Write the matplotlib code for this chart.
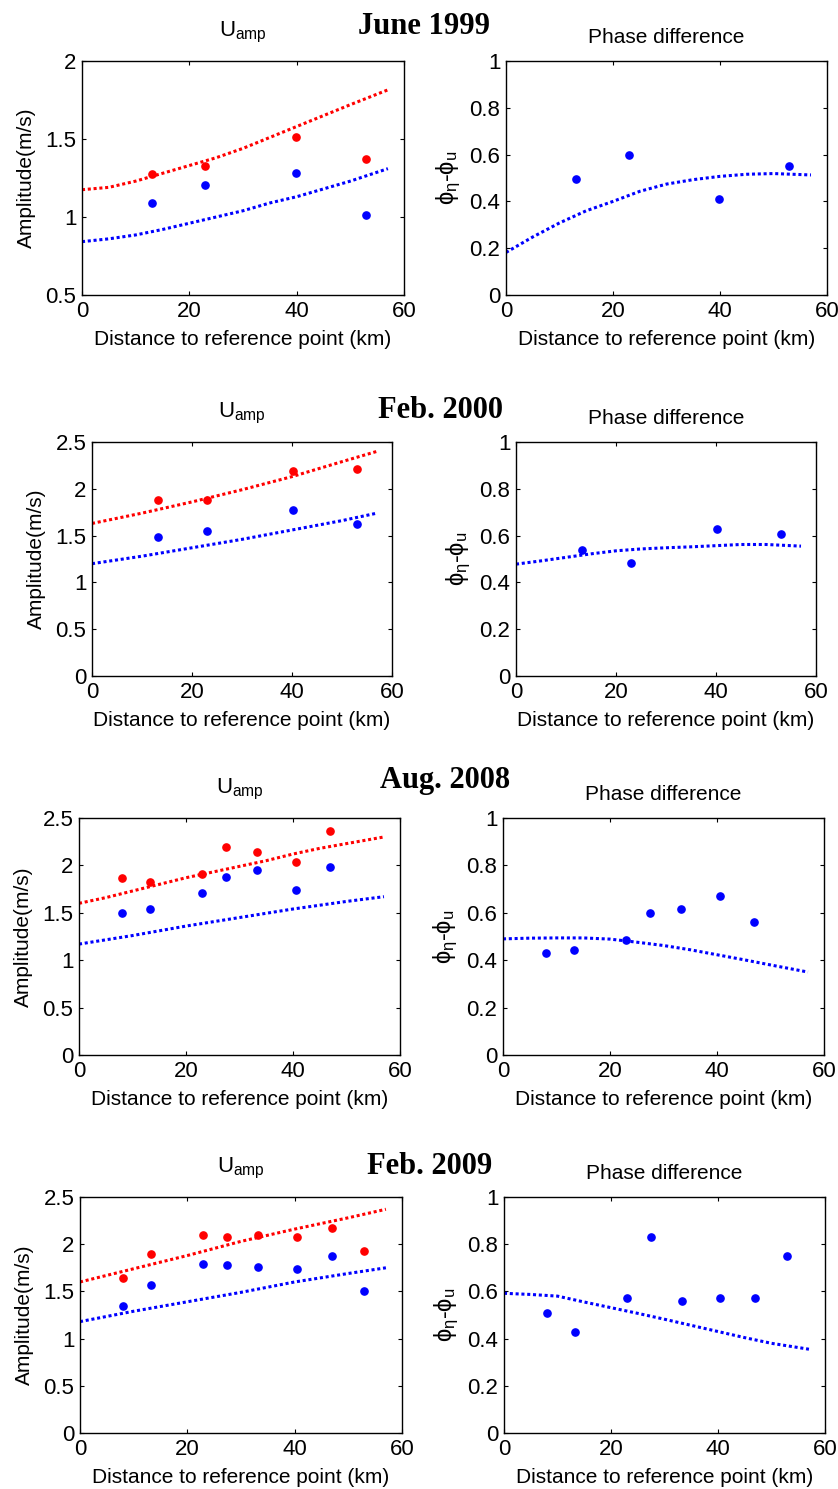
import numpy as np
import matplotlib
matplotlib.use("Agg")
import matplotlib.pyplot as plt
from matplotlib.ticker import FuncFormatter

plt.rcParams['font.family'] = ['Liberation Sans', 'DejaVu Sans']
plt.rcParams['mathtext.fontset'] = 'custom'
plt.rcParams['mathtext.rm'] = 'Liberation Sans'
plt.rcParams['mathtext.it'] = 'Liberation Sans'
plt.rcParams['mathtext.sf'] = 'Liberation Sans'

# ---- data ----
years = ["June 1999", "Feb. 2000", "Aug. 2008", "Feb. 2009"]

# observation stations (distance, km)
obs_x_1999 = [13.1, 22.9, 39.9, 52.9]
obs_x_2000 = [13.1, 22.9, 40.1, 53.0]
obs_x_2008 = [8.0, 13.2, 22.9, 27.4, 33.2, 40.5, 46.9]
obs_x_2009 = [8.0, 13.2, 22.9, 27.4, 33.2, 40.4, 46.9, 52.9]

# observed amplitude (red = upper, blue = lower)
obs_red_1999 = [1.276, 1.327, 1.515, 1.370]
obs_blue_1999 = [1.088, 1.203, 1.284, 1.015]
obs_red_2000 = [1.88, 1.88, 2.194, 2.21]
obs_blue_2000 = [1.481, 1.549, 1.777, 1.620]
obs_red_2008 = [1.864, 1.828, 1.913, 2.19, 2.138, 2.036, 2.359]
obs_blue_2008 = [1.501, 1.537, 1.709, 1.881, 1.948, 1.744, 1.983]
obs_red_2009 = [1.637, 1.894, 2.099, 2.081, 2.099, 2.081, 2.169, 1.926]
obs_blue_2009 = [1.345, 1.567, 1.789, 1.775, 1.757, 1.739, 1.877, 1.500]

# observed phase difference
obs_ph_1999 = [0.496, 0.600, 0.412, 0.551]
obs_ph_2000 = [0.537, 0.481, 0.627, 0.607]
obs_ph_2008 = [0.430, 0.443, 0.484, 0.601, 0.615, 0.669, 0.560]
obs_ph_2009 = [0.510, 0.427, 0.572, 0.832, 0.558, 0.572, 0.572, 0.751]

# model curves
mod_x = [0, 5, 10, 15, 20, 25, 30, 35, 40, 45, 50, 57]
mod_red_1999 = [1.175, 1.19, 1.23, 1.28, 1.33, 1.38, 1.44, 1.51, 1.58, 1.65, 1.72, 1.815]
mod_blue_1999 = [0.842, 0.86, 0.885, 0.92, 0.96, 1.00, 1.04, 1.09, 1.13, 1.18, 1.23, 1.31]
mod_red_2000 = [1.63, 1.685, 1.74, 1.80, 1.86, 1.925, 1.99, 2.06, 2.13, 2.21, 2.29, 2.40]
mod_blue_2000 = [1.20, 1.24, 1.28, 1.325, 1.37, 1.415, 1.46, 1.51, 1.56, 1.61, 1.66, 1.74]
mod_red_2008 = [1.60, 1.66, 1.73, 1.80, 1.87, 1.93, 1.99, 2.05, 2.12, 2.18, 2.23, 2.30]
mod_blue_2008 = [1.17, 1.215, 1.26, 1.31, 1.36, 1.405, 1.45, 1.495, 1.54, 1.58, 1.62, 1.67]
mod_red_2009 = [1.60, 1.67, 1.74, 1.81, 1.88, 1.955, 2.03, 2.095, 2.16, 2.22, 2.28, 2.37]
mod_blue_2009 = [1.18, 1.235, 1.29, 1.34, 1.39, 1.44, 1.49, 1.545, 1.60, 1.645, 1.69, 1.75]

mod_ph_1999 = [0.182, 0.248, 0.308, 0.36, 0.40, 0.443, 0.474, 0.493, 0.507, 0.516, 0.519, 0.513]
mod_ph_2000 = [0.478, 0.492, 0.507, 0.522, 0.535, 0.543, 0.548, 0.552, 0.557, 0.562, 0.562, 0.555]
mod_ph_2008 = [0.490, 0.493, 0.494, 0.494, 0.489, 0.476, 0.462, 0.444, 0.423, 0.402, 0.380, 0.350]
mod_ph_2009 = [0.592, 0.587, 0.580, 0.555, 0.531, 0.507, 0.482, 0.456, 0.430, 0.404, 0.380, 0.355]

obs_x = [obs_x_1999, obs_x_2000, obs_x_2008, obs_x_2009]
obs_red = [obs_red_1999, obs_red_2000, obs_red_2008, obs_red_2009]
obs_blue = [obs_blue_1999, obs_blue_2000, obs_blue_2008, obs_blue_2009]
obs_ph = [obs_ph_1999, obs_ph_2000, obs_ph_2008, obs_ph_2009]
mod_red = [mod_red_1999, mod_red_2000, mod_red_2008, mod_red_2009]
mod_blue = [mod_blue_1999, mod_blue_2000, mod_blue_2008, mod_blue_2009]
mod_ph = [mod_ph_1999, mod_ph_2000, mod_ph_2008, mod_ph_2009]

amp_ylim = [(0.5, 2), (0, 2.5), (0, 2.5), (0, 2.5)]

# ---- layout in pixels (left, top, right, bottom) ----
W, H = 838, 1489
left_boxes = [(82, 61, 404, 295), (92, 442, 392, 676), (79, 818, 400, 1055), (80, 1197, 402, 1433)]
right_boxes = [(506, 61, 827, 295), (516, 442, 816, 676), (503, 818, 824, 1055), (504, 1197, 825, 1433)]
year_pos = [(424, 26), (440, 411), (445, 781), (430, 1166)]

fig = plt.figure(figsize=(W / 100, H / 100), dpi=100)


def add_ax(box):
    l, t, r, b = box
    return fig.add_axes([l / W, 1 - b / H, (r - l) / W, (b - t) / H])


def style(ax):
    ax.tick_params(direction='in', length=3, width=0.8, top=True, right=True,
                   labelsize=16, colors='black', pad=4)
    for s in ax.spines.values():
        s.set_linewidth(1.0)
    ax.yaxis.set_major_formatter(FuncFormatter(lambda v, p: '%g' % v))
    ax.xaxis.set_major_formatter(FuncFormatter(lambda v, p: '%g' % v))
    ax.set_xlim(0, 60)
    ax.set_xticks([0, 20, 40, 60])
    ax.set_xlabel('Distance to reference point (km)', fontsize=15, labelpad=6)


dots = dict(linestyle=(0, (1, 0.9)), linewidth=2.2)

for i in range(4):
    ax = add_ax(left_boxes[i])
    ax.plot(mod_x, mod_red[i], color='red', **dots)
    ax.plot(mod_x, mod_blue[i], color='blue', **dots)
    ax.plot(obs_x[i], obs_red[i], 'o', color='red', markersize=5.2, linestyle='none')
    ax.plot(obs_x[i], obs_blue[i], 'o', color='blue', markersize=5.2, linestyle='none')
    ax.set_ylim(*amp_ylim[i])
    ax.set_yticks(np.arange(amp_ylim[i][0], amp_ylim[i][1] + 0.01, 0.5))
    style(ax)
    ax.set_ylabel('Amplitude(m/s)', fontsize=15, labelpad=7)
    ax.set_title(r'$\mathrm{U_{amp}}$', fontsize=16, pad=18)

    ax2 = add_ax(right_boxes[i])
    ax2.plot(mod_x, mod_ph[i], color='blue', **dots)
    ax2.plot(obs_x[i], obs_ph[i], 'o', color='blue', markersize=5.2, linestyle='none')
    ax2.set_ylim(0, 1)
    ax2.set_yticks([0, 0.2, 0.4, 0.6, 0.8, 1])
    style(ax2)
    ax2.set_ylabel(r'$\phi_{\eta}$-$\phi_{u}$', fontsize=17, labelpad=5)
    ax2.set_title('Phase difference', fontsize=15, pad=13)

    fig.text(year_pos[i][0] / W, 1 - year_pos[i][1] / H, years[i],
             fontsize=22, fontweight='bold', family='Liberation Serif',
             ha='center', va='center')

fig.savefig('out.png', dpi=100)
